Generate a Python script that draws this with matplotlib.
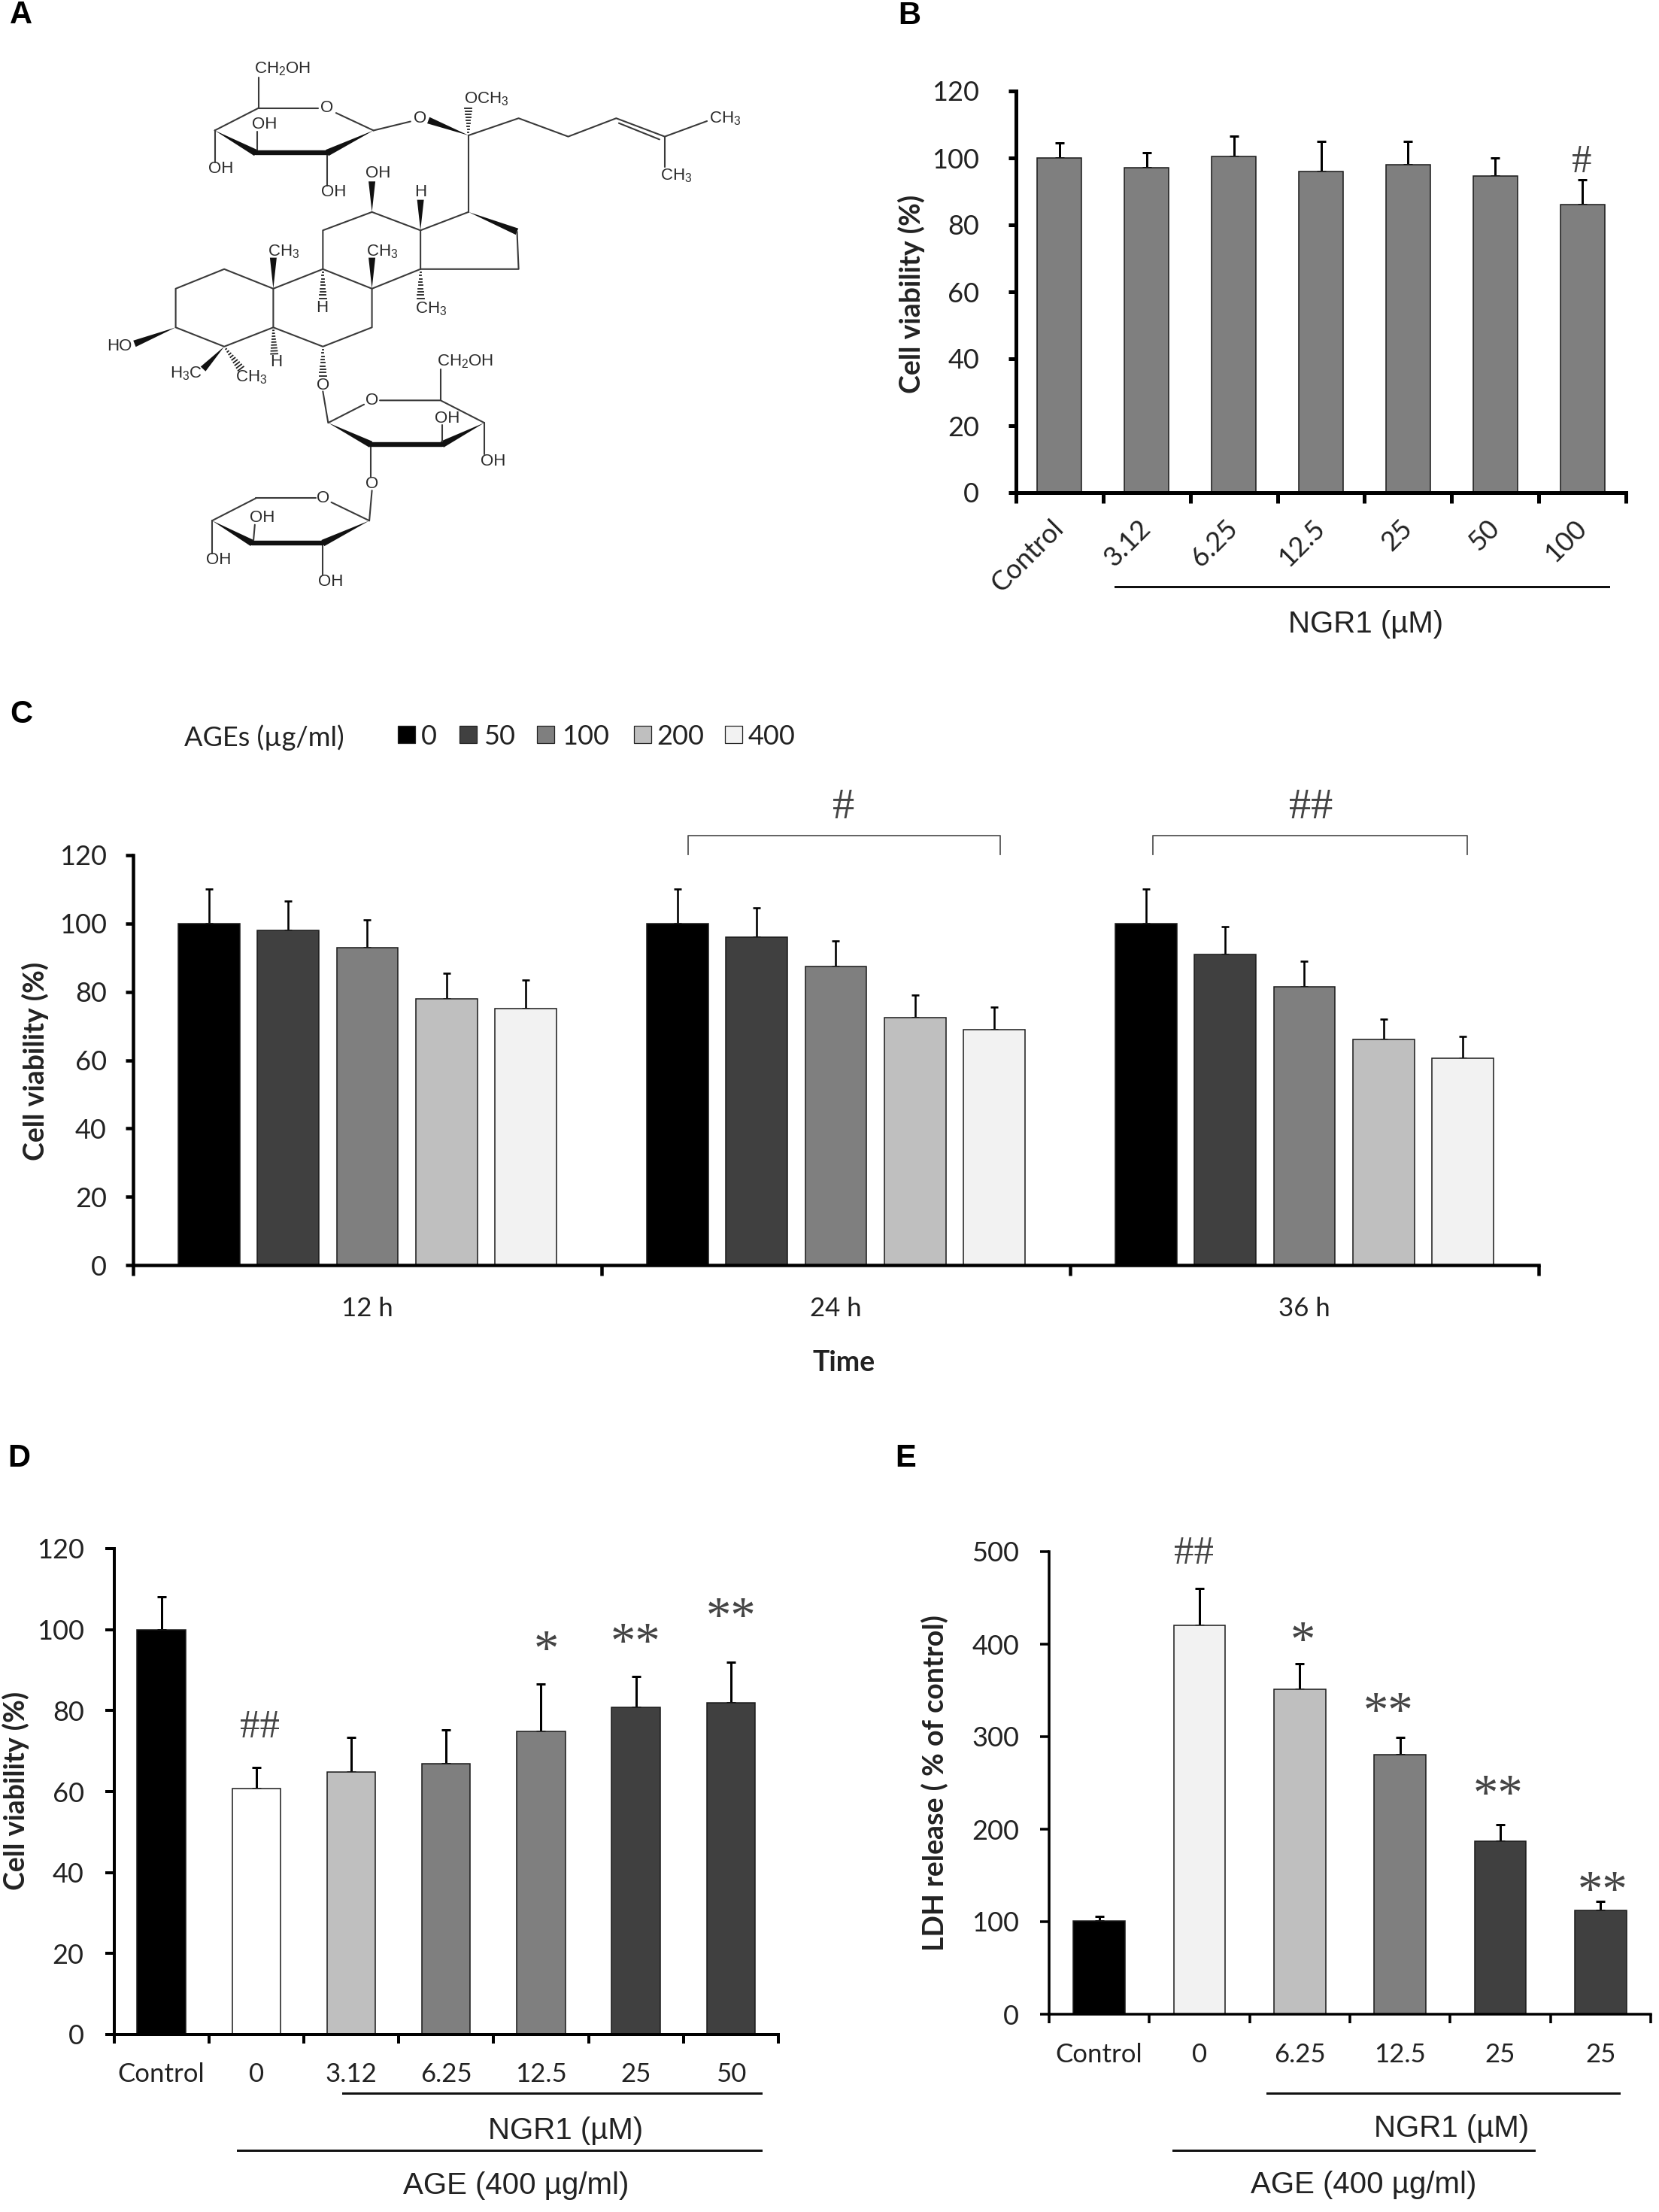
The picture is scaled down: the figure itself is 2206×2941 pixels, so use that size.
import numpy as np
import matplotlib
matplotlib.use("Agg")
import matplotlib.pyplot as plt
from matplotlib.patches import Rectangle, Polygon

W, H = 2206, 2941
plt.rcParams['font.family'] = ['Lato', 'DejaVu Sans']
plt.rcParams['mathtext.fontset'] = 'custom'
plt.rcParams['mathtext.rm'] = 'Liberation Sans'
plt.rcParams['mathtext.default'] = 'regular'

TXT = '#222222'
BLACK, DARK, MID, LIGHT, PALE, WHITE = '#000000', '#404040', '#7f7f7f', '#bfbfbf', '#f2f2f2', '#ffffff'

# ---- Panel B
b_labels = ['Control', '3.12', '6.25', '12.5', '25', '50', '100']
b_values = [100, 97, 100.5, 96, 98, 94.5, 86]
b_tops = [104.5, 101.5, 106.5, 105, 105, 100, 93.5]
b_colors = [MID] * 7

# ---- Panel C
c_groups = ['12 h', '24 h', '36 h']
c_series = ['0', '50', '100', '200', '400']
c_colors = [BLACK, DARK, MID, LIGHT, PALE]
c_12h = [100, 98, 93, 78, 75]
c_24h = [100, 96, 87.5, 72.5, 69]
c_36h = [100, 91, 81.5, 66, 60.5]
c_12h_tops = [110, 106.5, 101, 85.5, 83.5]
c_24h_tops = [110, 104.5, 95, 79, 75.5]
c_36h_tops = [110, 99, 89, 72, 67]

# ---- Panel D
d_labels = ['Control', '0', '3.12', '6.25', '12.5', '25', '50']
d_values = [100, 60.7, 64.9, 66.9, 74.9, 80.8, 82]
d_tops = [108.2, 65.9, 73.4, 75.2, 86.5, 88.5, 92]
d_colors = [BLACK, WHITE, LIGHT, MID, MID, DARK, DARK]

# ---- Panel E
e_labels = ['Control', '0', '6.25', '12.5', '25', '25']
e_values = [101, 420.7, 351.5, 280.5, 187, 112]
e_tops = [106, 460.5, 378.5, 299, 205, 122]
e_colors = [BLACK, PALE, LIGHT, MID, DARK, DARK]

# ---- Panel A structure (sketch coordinates)
plain_bonds = [
    [(490,265),(603,265)], [(637,277),(708,320)], [(407,320),(490,265)], [(490,265),(490,190)],
    [(487,372),(487,322)], [(407,320),(407,398)], [(620,375),(620,455)], [(708,320),(778,298)],
    [(888,332),(983,290),(1077,335),(1168,290),(1260,335),(1340,297)], [(1173,302),(1250,342)],
    [(1260,335),(1260,410)], [(888,332),(888,520)],
    [(980,568),(983,660),(797,660),(797,565),(888,520)], [(797,565),(705,520),(612,565),(612,660),(705,708),(797,660)],
    [(612,660),(518,708),(518,803),(612,850),(705,803),(705,708)],
    [(518,708),(425,660),(333,708),(333,803),(425,850),(518,803)],
    [(612,960),(622,1037),(690,992)], [(720,982),(835,982),(918,1037)], [(835,982),(835,905)],
    [(838,1090),(838,1042)], [(918,1037),(918,1115)], [(703,1090),(703,1170)], [(705,1203),(700,1277)],
    [(485,1222),(598,1222)], [(628,1232),(700,1277)], [(402,1277),(485,1222)],
    [(480,1332),(483,1287)], [(402,1277),(402,1358)], [(612,1332),(612,1410)],
]
thick_bonds = [[(620,375),(485,375)], [(838,1090),(703,1090)], [(612,1332),(478,1332)]]
wedge_bonds = [
    [(708,320),(620,375)], [(407,320),(485,375)], [(888,332),(812,295)], [(888,520),(980,568)],
    [(705,520),(705,445)], [(797,565),(797,490)], [(705,708),(705,632)], [(518,708),(518,632)],
    [(333,803),(255,843)], [(425,850),(385,905)], [(918,1037),(838,1090)], [(622,1037),(703,1090)],
    [(700,1277),(612,1332)], [(402,1277),(478,1332)],
]
hash_bonds = [
    [(888,332),(888,258)], [(797,660),(797,740)], [(612,660),(612,740)], [(518,803),(520,875)],
    [(425,850),(460,910)], [(612,850),(612,930)],
]
atom_labels = [
    (535,170,'CH$_2$OH'), (620,265,'O'), (502,305,'OH'), (418,415,'OH'), (632,472,'OH'), (796,290,'O'),
    (922,243,'OCH$_3$'), (1375,290,'CH$_3$'), (1282,432,'CH$_3$'), (717,425,'OH'), (797,472,'H'),
    (538,617,'CH$_3$'), (725,617,'CH$_3$'), (817,757,'CH$_3$'), (610,755,'H'), (524,888,'H'),
    (226,850,'HO'), (352,917,'H$_3$C'), (476,925,'CH$_3$'), (612,945,'O'), (705,982,'O'),
    (882,887,'CH$_2$OH'), (848,1027,'OH'), (935,1131,'OH'), (705,1187,'O'), (613,1222,'O'),
    (497,1271,'OH'), (414,1373,'OH'), (627,1426,'OH'),
]

fig = plt.figure(figsize=(W / 100, H / 100), dpi=100, facecolor='white')


def pxtext(x, y, s, **kw):
    kw.setdefault('ha', 'center')
    kw.setdefault('va', 'center')
    kw.setdefault('color', TXT)
    return fig.text(x / W, 1 - y / H, s, **kw)


def pxline(x0, x1, y, lw=3.0, color='#111111'):
    fig.add_artist(plt.Line2D([x0 / W, x1 / W], [1 - y / H, 1 - y / H], color=color, lw=lw * 0.72,
                              transform=fig.transFigure))


def make_axes(l, r, t, b):
    return fig.add_axes([l / W, 1 - b / H, (r - l) / W, (b - t) / H], facecolor='none')


def style(ax, ymax, yticks, spine_px, ticklen_px, ypad, fs=26):
    ax.set_ylim(0, ymax)
    ax.set_yticks(yticks)
    for s in ('top', 'right'):
        ax.spines[s].set_visible(False)
    for s in ('left', 'bottom'):
        ax.spines[s].set_linewidth(spine_px * 0.72)
        ax.spines[s].set_capstyle('projecting')
    ax.tick_params(axis='both', which='major', width=spine_px * 0.72, length=ticklen_px * 0.72, direction='out')
    ax.tick_params(axis='y', pad=ypad, labelsize=fs, labelcolor=TXT)


def category_axis(ax, labels, xpad, fs=25, **labelkw):
    n = len(labels)
    ax.set_xlim(-0.5, n - 0.5)
    ax.set_xticks(np.arange(n + 1) - 0.5)
    ax.set_xticklabels([])
    ax.set_xticks(np.arange(n), minor=True)
    ax.set_xticklabels(labels, minor=True, fontsize=fs, color=TXT, **labelkw)
    ax.tick_params(axis='x', which='minor', length=0, pad=xpad)


def bars(ax, x, values, tops, colors, width, cap_pt, err_px):
    ax.bar(x, values, width=width, color=colors, edgecolor='#1a1a1a', linewidth=1.1, zorder=2)
    ax.errorbar(x, values, yerr=[np.zeros(len(values)), np.array(tops) - np.array(values)], fmt='none',
                ecolor='black', elinewidth=err_px * 0.72, capsize=cap_pt, capthick=err_px * 0.72, zorder=1,
                clip_on=False)


# ---- Panel A
axA = make_axes(0, 1100, 0, 850)
axA.set_xlim(0, 1568)
axA.set_ylim(1568, 0)
axA.axis('off')
SX, SY = 1100 / 1568, 850 / 1568
BOND = '#3a3a3a'
for chain in plain_bonds:
    xs, ys = zip(*chain)
    axA.plot(xs, ys, color=BOND, lw=1.5, solid_joinstyle='round', solid_capstyle='round')
for chain in thick_bonds:
    xs, ys = zip(*chain)
    axA.plot(xs, ys, color='#111111', lw=4.6, solid_capstyle='round')


def perp(p, q, half_px):
    dx, dy = (q[0] - p[0]) * SX, (q[1] - p[1]) * SY
    L = np.hypot(dx, dy)
    return (-dy / L * half_px / SX, dx / L * half_px / SY)


for p, q in wedge_bonds:
    nx, ny = perp(p, q, 4.5)
    axA.add_patch(Polygon([p, (q[0] + nx, q[1] + ny), (q[0] - nx, q[1] - ny)], closed=True, color='#111111', lw=0))
for p, q in hash_bonds:
    nx, ny = perp(p, q, 5)
    for f in (0.1, 0.2, 0.3, 0.4, 0.5, 0.6, 0.7, 0.8, 0.9):
        cx, cy = p[0] + (q[0] - p[0]) * f, p[1] + (q[1] - p[1]) * f
        axA.plot([cx - nx * f, cx + nx * f], [cy - ny * f, cy + ny * f], color='#222222', lw=1.3)
for x, y, s in atom_labels:
    axA.text(x, y, s, ha='center', va='center', fontsize=16, family='Liberation Sans', color='#2a2a2a')

# ---- Panel B
axB = make_axes(1351, 2162, 121, 655)
style(axB, 120, np.arange(0, 121, 20), 5, 14, 28)
axB.tick_params(axis='y', length=10 * 0.72)
category_axis(axB, b_labels, 30, fs=26, rotation=45, ha='right', va='center', rotation_mode='anchor')
bars(axB, np.arange(7), b_values, b_tops, b_colors, 0.51, 4.5, 3)

# ---- Panel C
axC = make_axes(177, 2046, 1137, 1682)
style(axC, 120, np.arange(0, 121, 20), 4.5, 14, 18)
axC.tick_params(axis='y', length=10 * 0.72)
category_axis(axC, c_groups, 30)
for i, (vals, tops) in enumerate(zip(zip(c_12h, c_24h, c_36h), zip(c_12h_tops, c_24h_tops, c_36h_tops))):
    bars(axC, np.arange(3) + (i - 2) * 0.169, vals, tops, c_colors[i], 0.131, 3.5, 2.6)
for x0, x1 in ((0.684, 1.35), (1.677, 2.348)):
    axC.plot([x0, x0, x1, x1], [120.2, 125.7, 125.7, 120.2], color='#555555', lw=1.3, clip_on=False)

# ---- Panel D
axD = make_axes(151.5, 1035, 2059, 2705)
style(axD, 120, np.arange(0, 121, 20), 4, 12, 20)
category_axis(axD, d_labels, 27)
bars(axD, np.arange(7), d_values, d_tops, d_colors, 0.51, 4.5, 3)

# ---- Panel E
axE = make_axes(1395, 2195, 2063, 2678)
style(axE, 500, np.arange(0, 501, 100), 3.5, 12, 20)
category_axis(axE, e_labels, 27)
bars(axE, np.arange(6), e_values, e_tops, e_colors, 0.515, 4.5, 3)

# ---- y labels
for x, y, s, ax_fs in ((1212, 391, 'Cell viability (%)', 27), (47, 1411, 'Cell viability (%)', 27),
                       (21, 2381, 'Cell viability (%)', 27), (1243, 2371, 'LDH release ( % of control)', 27)):
    pxtext(x, y, s, rotation=90, fontsize=ax_fs, fontweight='bold')
pxtext(1122, 1812, 'Time', fontsize=27, fontweight='bold')

# ---- Legend of panel C
pxtext(351, 981, 'AGEs (µg/ml)', fontsize=26)
leg_boxes = [529, 611, 714, 843, 964]
leg_text = [560, 643, 747, 873, 995]
for bx, tx, c, s in zip(leg_boxes, leg_text, c_colors, c_series):
    fig.add_artist(Rectangle((bx / W, 1 - 988 / H), 23 / W, 23 / H, facecolor=c, edgecolor='#222222', lw=0.9,
                             transform=fig.transFigure))
    pxtext(tx, 979, s, fontsize=26, ha='left')

# ---- Group lines and captions
SANS = 'Liberation Sans'
pxline(1483, 2139, 780)
pxtext(1816, 830, 'NGR1 (µM)', fontsize=29, family=SANS)
pxline(456, 1012, 2783)
pxline(316, 1012, 2859)
pxtext(752, 2833, 'NGR1 (µM)', fontsize=29, family=SANS)
pxtext(686, 2906, 'AGE (400 µg/ml)', fontsize=29, family=SANS)
pxline(1685, 2153, 2783)
pxline(1560, 2040, 2859)
pxtext(1930, 2830, 'NGR1 (µM)', fontsize=29, family=SANS)
pxtext(1813, 2905, 'AGE (400 µg/ml)', fontsize=29, family=SANS)

# ---- Significance marks
SERIF = 'Liberation Serif'
for x, y, s, fs in ((2103, 216, '#', 38), (1122, 1074, '#', 42), (1743, 1074, '##', 42),
                    (346, 2297, '##', 38), (1588, 2066, '##', 38)):
    pxtext(x, y, s, fontsize=fs, family=SERIF, color='#444444')
for x, y, s in ((726, 2182, '*'), (845, 2171, '**'), (972, 2137, '**'),
                (1732, 2169, '*'), (1846, 2264, '**'), (1992, 2374, '**'), (2131, 2501, '**')):
    pxtext(x, y + 15, s, fontsize=48, family=SERIF, color='#444444')

# ---- Panel letters
for x, y, s in ((13, 20, 'A'), (1194, 21, 'B'), (13, 950, 'C'), (10, 1939, 'D'), (1190, 1939, 'E')):
    pxtext(x, y, s, fontsize=30, family=SANS, ha='left', color='black', fontweight='bold')

fig.savefig('out.png', dpi=100)
